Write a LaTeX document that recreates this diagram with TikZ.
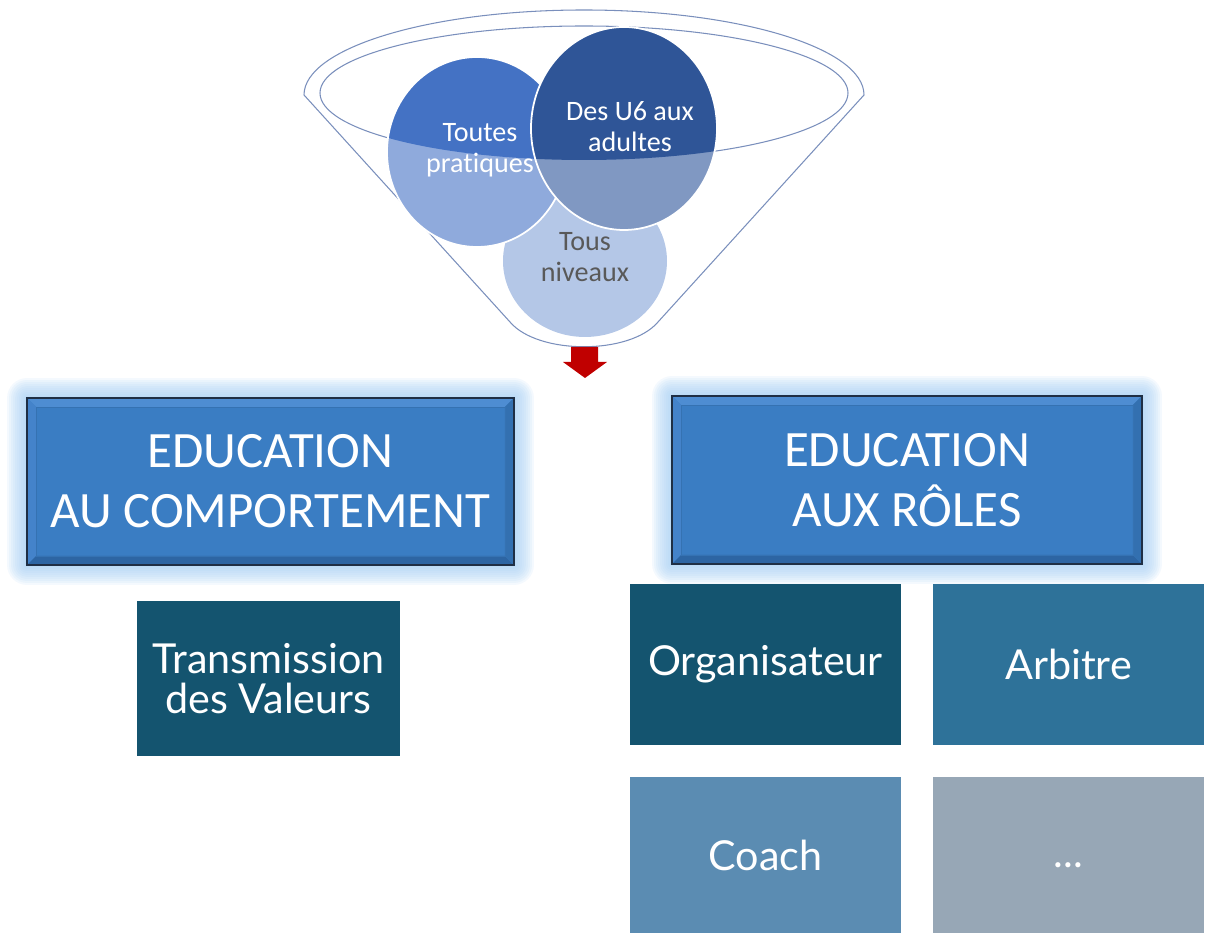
\documentclass[tikz,border=0pt]{standalone}
\usepackage{fontspec}
\setmainfont{Carlito}[Ligatures=NoCommon]
\newfontfamily\aptos{Lato}
\usetikzlibrary{backgrounds}
\definecolor{funline}{HTML}{7A8FBC}
\definecolor{tnlight}{HTML}{B4C7E7}
\definecolor{tplight}{HTML}{8FAADC}
\definecolor{tpdark}{HTML}{4472C4}
\definecolor{dulight}{HTML}{8098C2}
\definecolor{dudark}{HTML}{2F5597}
\definecolor{grayText}{HTML}{595959}
\definecolor{arrowred}{HTML}{C00000}
\definecolor{edublue}{HTML}{3A7DC3}
\definecolor{edudark}{HTML}{1F2F45}
\definecolor{bevlight}{HTML}{4E8DD2}
\definecolor{bevleft}{HTML}{4483CA}
\definecolor{bevdark}{HTML}{2D65A3}
\definecolor{bevright}{HTML}{3370B0}
\definecolor{bevline}{HTML}{3572B2}
\definecolor{glowc}{HTML}{A3CDF3}
\definecolor{boxA}{HTML}{14546F}
\definecolor{boxB}{HTML}{2E7299}
\definecolor{boxC}{HTML}{5B8CB2}
\definecolor{boxD}{HTML}{97A7B6}
\newcommand\bevelbox[1]{%
  \fill[bevlight] (#1.north west) -- (#1.north east) -- ([shift={(-9,-9)}]#1.north east) -- ([shift={(9,-9)}]#1.north west) -- cycle;
  \fill[bevleft] (#1.north west) -- ([shift={(9,-9)}]#1.north west) -- ([shift={(9,9)}]#1.south west) -- (#1.south west) -- cycle;
  \fill[bevdark] (#1.south west) -- (#1.south east) -- ([shift={(-9,9)}]#1.south east) -- ([shift={(9,9)}]#1.south west) -- cycle;
  \fill[bevright] (#1.south east) -- (#1.north east) -- ([shift={(-9,-9)}]#1.north east) -- ([shift={(-9,9)}]#1.south east) -- cycle;
  \draw[bevline, line width=0.5pt] ([shift={(9,9)}]#1.south west) rectangle ([shift={(-9,-9)}]#1.north east);
  \draw[edudark, line width=1.4pt] (#1.south west) rectangle (#1.north east);
  \begin{scope}[on background layer]
    \foreach \g in {2,4,...,20} {
      \fill[glowc, opacity=0.12, rounded corners=\g*0.02cm]
        ([shift={(-\g,-\g)}]#1.south west) rectangle ([shift={(\g,\g)}]#1.north east);
    }
  \end{scope}
}
\tikzset{
  funnel/.style={draw=funline, line width=0.6pt},
  ftext/.style={align=center, text=white, font=\fontsize{16}{17.6}\selectfont, inner sep=0},
  edubox/.style={fill=edublue, text=white, align=center, inner sep=0, outer sep=0,
    font=\fontsize{29}{34}\selectfont},
  rolebox/.style={text=white, align=center, inner sep=0, outer sep=0,
    font=\aptos\fontsize{23.5}{23.2}\selectfont},
}
\begin{document}
\begin{tikzpicture}[x=0.02cm,y=0.02cm]
\useasboundingbox (0,0) rectangle (1218,933);
% funnel outline
\draw[funnel] (864,838) arc[start angle=0,end angle=180,x radius=280,y radius=85]
  -- (510,611) .. controls (538,578) and (630,578) .. (658,611) -- cycle;
\draw[funnel] (584,840) ellipse [x radius=264, y radius=67];
% circles
\fill[tnlight] (585,672) ellipse [x radius=82, y radius=76];
\fill[tplight] (477,781) ellipse [x radius=90, y radius=95];
\begin{scope}
  \clip (584,840) ellipse [x radius=264, y radius=67];
  \fill[tpdark] (477,781) ellipse [x radius=90, y radius=95];
\end{scope}
\draw[white, line width=1pt] (477,781) ellipse [x radius=90, y radius=95];
\fill[dulight] (624,804.5) ellipse [x radius=93, y radius=101.5];
\begin{scope}
  \clip (584,840) ellipse [x radius=264, y radius=67];
  \fill[dudark] (624,804.5) ellipse [x radius=93, y radius=101.5];
\end{scope}
\draw[white, line width=1pt] (624,804.5) ellipse [x radius=93, y radius=101.5];
\node[ftext] (tp) at (480,783) {Toutes\\pratiques};
\node[ftext] (du) at (630,806) {Des U6 aux\\adultes};
\node[ftext, text=grayText] (tn) at (585,676) {Tous\\niveaux};
% red arrow
\fill[arrowred] (571,586) -- (598,586) -- (598,571) -- (607,571) -- (585,555)
  -- (563,571) -- (571,571) -- cycle;
% education boxes
\node[edubox, minimum width=9.74cm, minimum height=3.34cm] (e1) at (270.5,451.5)
  {EDUCATION\\AU COMPORTEMENT};
\node[edubox, minimum width=9.40cm, minimum height=3.36cm] (e2) at (907,453)
  {EDUCATION\\AUX RÔLES};
\bevelbox{e1}
\bevelbox{e2}
% role boxes
\node[rolebox, fill=boxA, minimum width=5.26cm, minimum height=3.10cm] (tv) at (268.5,254.5)
  {Transmission\\des Valeurs};
\node[rolebox, fill=boxA, minimum width=5.42cm, minimum height=3.22cm] (org) at (765.5,268.5)
  {Organisateur};
\node[rolebox, fill=boxB, minimum width=5.42cm, minimum height=3.22cm] (arb) at (1068.5,268.5)
  {Arbitre};
\node[rolebox, fill=boxC, minimum width=5.42cm, minimum height=3.12cm] (coach) at (765.5,78)
  {Coach};
\node[rolebox, fill=boxD, minimum width=5.42cm, minimum height=3.12cm] (etcbox) at (1068.5,78) {};
\node[rolebox] (etc) at (1068.5,68) {...};
\end{tikzpicture}
\end{document}
